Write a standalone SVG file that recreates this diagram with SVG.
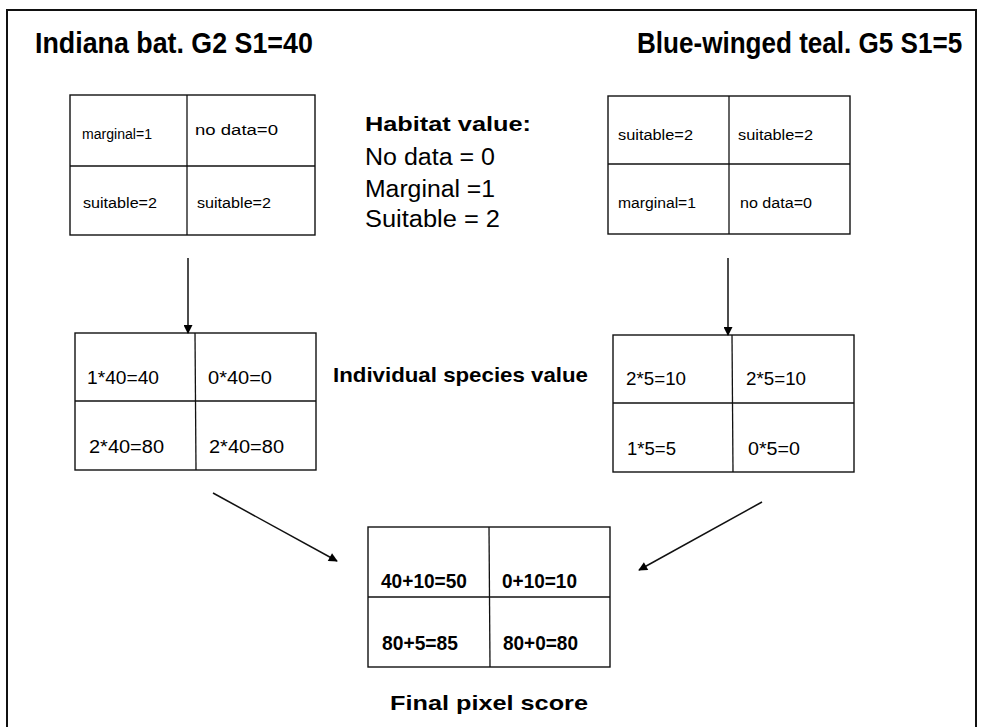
<svg xmlns="http://www.w3.org/2000/svg" width="984" height="727" viewBox="0 0 984 727">
<style>
.bg{fill:#fff}
.frame{fill:none;stroke:#111;stroke-width:2}
.cell{fill:#fff;stroke:#111;stroke-width:1.4}
.div{stroke:#111;stroke-width:1.3}
.title{font-family:"Liberation Sans",Arial,sans-serif;font-weight:bold;font-size:30px;fill:#000}
.hand{font-family:"Liberation Sans",Arial,sans-serif;font-size:15.5px;fill:#000}
.mid{font-family:"Liberation Sans",Arial,sans-serif;font-size:18px;fill:#000}
.bot{font-family:"Liberation Sans",Arial,sans-serif;font-weight:bold;font-size:20px;fill:#000}
.lab{font-family:"Liberation Sans",Arial,sans-serif;font-weight:bold;font-size:21px;fill:#000}
.leg{font-family:"Liberation Sans",Arial,sans-serif;font-size:23px;fill:#000}
.conn{fill:none;stroke:#111;stroke-width:1.5}
</style>
<defs>
<marker id="ah" viewBox="0 0 10 10" refX="9" refY="5" markerWidth="10" markerHeight="9" orient="auto" markerUnits="userSpaceOnUse">
<path d="M0,0 L10,5 L0,10 z" fill="#000"/>
</marker>
</defs>
<rect class="bg" x="0" y="0" width="984" height="727"/>
<path class="frame" d="M7,740 L7,10 L976,10 L976,740"/>

<g id="title-left"><text class="title" transform="translate(35,53) scale(0.894,1)" x="0" y="0">Indiana bat. G2 S1=40</text></g>
<g id="title-right"><text class="title" transform="translate(637,53) scale(0.869,1)" x="0" y="0">Blue-winged teal. G5 S1=5</text></g>

<g id="habitat-legend">
<text class="lab" x="365" y="131" textLength="166" lengthAdjust="spacingAndGlyphs">Habitat value:</text>
<text class="leg" x="365" y="165" textLength="130" lengthAdjust="spacingAndGlyphs">No data = 0</text>
<text class="leg" x="365" y="197" textLength="130" lengthAdjust="spacingAndGlyphs">Marginal =1</text>
<text class="leg" x="365" y="227" textLength="135" lengthAdjust="spacingAndGlyphs">Suitable = 2</text>
</g>

<g id="grid-bat-habitat">
<rect class="cell" x="70" y="95" width="245" height="140"/>
<line class="div" x1="187" y1="95" x2="187" y2="235"/>
<line class="div" x1="70" y1="166" x2="315" y2="166"/>
<text class="hand" x="82" y="139" textLength="70" lengthAdjust="spacingAndGlyphs">marginal=1</text>
<text class="hand" x="195" y="135" textLength="83" lengthAdjust="spacingAndGlyphs">no data=0</text>
<text class="hand" x="83" y="208" textLength="74" lengthAdjust="spacingAndGlyphs">suitable=2</text>
<text class="hand" x="197" y="208" textLength="74" lengthAdjust="spacingAndGlyphs">suitable=2</text>
</g>

<g id="grid-teal-habitat">
<rect class="cell" x="608" y="96" width="242" height="138"/>
<line class="div" x1="729" y1="96" x2="729" y2="234"/>
<line class="div" x1="608" y1="164" x2="850" y2="164"/>
<text class="hand" x="618" y="140" textLength="75" lengthAdjust="spacingAndGlyphs">suitable=2</text>
<text class="hand" x="738" y="140" textLength="75" lengthAdjust="spacingAndGlyphs">suitable=2</text>
<text class="hand" x="618" y="208" textLength="78" lengthAdjust="spacingAndGlyphs">marginal=1</text>
<text class="hand" x="740" y="208" textLength="72" lengthAdjust="spacingAndGlyphs">no data=0</text>
</g>

<g id="grid-bat-value">
<rect class="cell" x="75" y="333" width="241" height="137"/>
<line class="div" x1="195" y1="333" x2="196" y2="470"/>
<line class="div" x1="75" y1="401" x2="316" y2="401"/>
<text class="mid" x="87" y="384" textLength="72" lengthAdjust="spacingAndGlyphs">1*40=40</text>
<text class="mid" x="208" y="384" textLength="64" lengthAdjust="spacingAndGlyphs">0*40=0</text>
<text class="mid" x="89" y="453" textLength="75" lengthAdjust="spacingAndGlyphs">2*40=80</text>
<text class="mid" x="209" y="453" textLength="75" lengthAdjust="spacingAndGlyphs">2*40=80</text>
</g>

<g id="species-value-label"><text class="lab" x="333" y="382" font-size="19" textLength="255" lengthAdjust="spacingAndGlyphs">Individual species value</text></g>

<g id="grid-teal-value">
<rect class="cell" x="613" y="335" width="241" height="137"/>
<line class="div" x1="732" y1="335" x2="733" y2="472"/>
<line class="div" x1="613" y1="403" x2="854" y2="403"/>
<text class="mid" x="626" y="385" textLength="60" lengthAdjust="spacingAndGlyphs">2*5=10</text>
<text class="mid" x="746" y="385" textLength="60" lengthAdjust="spacingAndGlyphs">2*5=10</text>
<text class="mid" x="627" y="455" textLength="49" lengthAdjust="spacingAndGlyphs">1*5=5</text>
<text class="mid" x="748" y="455" textLength="52" lengthAdjust="spacingAndGlyphs">0*5=0</text>
</g>

<g id="grid-final">
<rect class="cell" x="368" y="527" width="242" height="140"/>
<line class="div" x1="489" y1="527" x2="490" y2="667"/>
<line class="div" x1="368" y1="597" x2="610" y2="597"/>
<text class="bot" x="381" y="588" textLength="86" lengthAdjust="spacingAndGlyphs">40+10=50</text>
<text class="bot" x="502" y="588" textLength="75" lengthAdjust="spacingAndGlyphs">0+10=10</text>
<text class="bot" x="382" y="650" textLength="76" lengthAdjust="spacingAndGlyphs">80+5=85</text>
<text class="bot" x="503" y="650" textLength="75" lengthAdjust="spacingAndGlyphs">80+0=80</text>
</g>

<g id="final-label"><text class="lab" x="390" y="710" font-size="22" textLength="198" lengthAdjust="spacingAndGlyphs">Final pixel score</text></g>

<g id="connectors">
<line class="conn" x1="188" y1="258" x2="188" y2="333" marker-end="url(#ah)"/>
<line class="conn" x1="728" y1="258" x2="728" y2="335" marker-end="url(#ah)"/>
<line class="conn" x1="213" y1="493" x2="337" y2="561" marker-end="url(#ah)"/>
<line class="conn" x1="762" y1="502" x2="639" y2="570" marker-end="url(#ah)"/>
</g>
</svg>
